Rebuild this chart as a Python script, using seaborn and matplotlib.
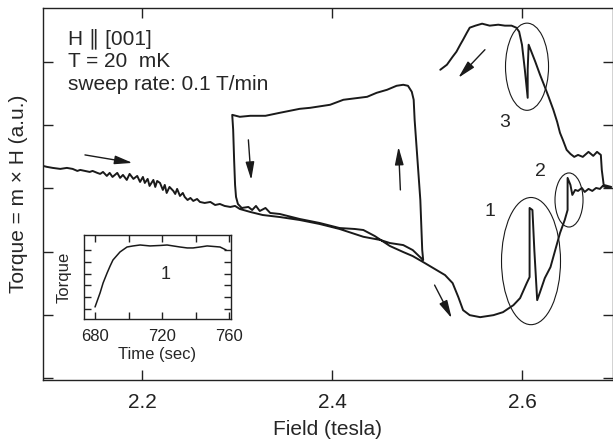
"""
Torque vs field hysteresis (H || [001], 20 mK) with spike inset.
"""

import pandas as pd
import matplotlib.pyplot as plt
from matplotlib.patches import Ellipse
import seaborn as sns

# First up-sweep, 2.1 T -> 2.5 T (noisy at low field)
field_up1 = [
    2.096, 2.100, 2.106, 2.114, 2.121, 2.127, 2.132, 2.135, 2.140, 2.145,
    2.148, 2.153, 2.156, 2.159, 2.163, 2.166, 2.169, 2.174, 2.177, 2.180,
    2.184, 2.187, 2.191, 2.195, 2.198, 2.201, 2.203, 2.206, 2.208, 2.212,
    2.214, 2.216, 2.219, 2.222, 2.224, 2.226, 2.229, 2.233, 2.235, 2.237,
    2.240, 2.243, 2.245, 2.248, 2.251, 2.254, 2.258, 2.261, 2.266, 2.272,
    2.277, 2.282, 2.287, 2.293, 2.298, 2.303, 2.314, 2.327, 2.345, 2.366,
    2.387, 2.408, 2.433, 2.451, 2.461, 2.475, 2.485, 2.496,
]
torque_up1 = [
    3.354, 3.339, 3.323, 3.307, 3.323, 3.307, 3.275, 3.291, 3.275, 3.259,
    3.275, 3.244, 3.228, 3.259, 3.196, 3.244, 3.180, 3.244, 3.165, 3.212,
    3.133, 3.228, 3.149, 3.196, 3.101, 3.180, 3.085, 3.149, 3.038, 3.133,
    3.022, 3.117, 3.085, 2.975, 3.054, 2.927, 3.022, 2.959, 2.911, 2.991,
    2.880, 2.927, 2.864, 2.816, 2.848, 2.801, 2.832, 2.785, 2.769, 2.785,
    2.737, 2.753, 2.722, 2.706, 2.722, 2.674, 2.627, 2.579, 2.547, 2.500,
    2.437, 2.358, 2.235, 2.184, 2.136, 2.104, 2.025, 1.867,
]

# Hysteresis loop between 2.3 T and 2.5 T, back onto the lower branch
field_loop = [
    2.495, 2.493, 2.490, 2.487, 2.486, 2.484, 2.480, 2.475, 2.468, 2.458,
    2.447, 2.437, 2.412, 2.398, 2.377, 2.366, 2.345, 2.330, 2.314, 2.303,
    2.295, 2.296, 2.297, 2.298, 2.299, 2.301, 2.305, 2.312, 2.316, 2.320,
    2.324, 2.330, 2.335, 2.345, 2.366, 2.387, 2.408, 2.424, 2.433, 2.445,
    2.461, 2.475, 2.485, 2.496,
]
torque_loop = [
    2.025, 2.816, 3.449, 4.082, 4.399, 4.525, 4.620, 4.636, 4.620, 4.557,
    4.509, 4.446, 4.399, 4.320, 4.272, 4.256, 4.193, 4.146, 4.146, 4.130,
    4.161, 3.924, 3.449, 3.054, 2.864, 2.753, 2.690, 2.706, 2.658, 2.722,
    2.642, 2.690, 2.611, 2.595, 2.516, 2.453, 2.373, 2.358, 2.342, 2.247,
    2.089, 1.994, 1.930, 1.835,
]

# Up-sweep above 2.5 T: dip, spike 1 and spike 2
field_up2 = [
    2.503, 2.519, 2.527, 2.533, 2.538, 2.545, 2.556, 2.570, 2.580, 2.591,
    2.598, 2.605, 2.608, 2.608, 2.608, 2.608, 2.611, 2.613, 2.616, 2.619,
    2.624, 2.630, 2.635, 2.640, 2.645, 2.648, 2.648, 2.648, 2.651, 2.653,
    2.656, 2.659, 2.663, 2.666, 2.670, 2.674, 2.678, 2.682, 2.685, 2.690,
    2.694,
]
torque_up2 = [
    1.772, 1.630, 1.503, 1.282, 1.076, 0.997, 0.965, 0.997, 1.044, 1.155,
    1.266, 1.503, 1.598, 1.867, 2.342, 2.690, 2.658, 2.025, 1.234, 1.361,
    1.582, 1.756, 2.025, 2.294, 2.500, 2.658, 2.896, 3.165, 3.054, 2.896,
    2.975, 2.959, 3.006, 2.943, 2.991, 2.959, 3.006, 2.991, 3.038, 3.006,
    3.022,
]

# Down-sweep from 2.69 T: step, spike 3, plateau
field_down = [
    2.686, 2.684, 2.683, 2.679, 2.675, 2.670, 2.664, 2.659, 2.655, 2.651,
    2.647, 2.643, 2.640, 2.637, 2.633, 2.628, 2.624, 2.619, 2.614, 2.609,
    2.607, 2.606, 2.606, 2.603, 2.600, 2.597, 2.594, 2.589, 2.582, 2.575,
    2.566, 2.558, 2.551, 2.545, 2.542, 2.538, 2.535, 2.531, 2.527, 2.521,
    2.514,
]
torque_down = [
    3.054, 3.291, 3.528, 3.576, 3.513, 3.576, 3.497, 3.528, 3.497, 3.544,
    3.608, 3.766, 3.877, 4.051, 4.241, 4.446, 4.604, 4.794, 5.000, 5.190,
    5.269, 4.873, 4.430, 4.873, 5.269, 5.475, 5.538, 5.570, 5.570, 5.585,
    5.570, 5.601, 5.570, 5.538, 5.459, 5.348, 5.269, 5.158, 5.079, 4.953,
    4.873,
]

# Inset: torque vs time around spike 1
inset_time = [
    680.0, 683.0, 684.8, 687.2, 689.0, 690.7, 694.9, 699.1, 702.7, 706.9,
    712.8, 718.8, 723.0, 726.6, 730.7, 735.0, 738.5, 742.7, 746.9, 750.4,
    754.6, 758.2,
]
inset_torque = [
    0.17, 1.36, 2.20, 3.05, 3.64, 4.15, 4.83, 5.25, 5.34, 5.42,
    5.34, 5.38, 5.42, 5.34, 5.25, 5.17, 5.17, 5.25, 5.34, 5.30,
    5.25, 5.00,
]

# One continuous record, in time order
df = pd.DataFrame({
    "field": field_up1 + field_loop + field_up2 + field_down,
    "torque": torque_up1 + torque_loop + torque_up2 + torque_down,
})
inset_df = pd.DataFrame({"time": inset_time, "torque": inset_torque})

sns.set_theme(style="ticks")
plt.rcParams["font.family"] = ["Liberation Sans", "DejaVu Sans"]
plt.rcParams["axes.edgecolor"] = "#222222"

fig = plt.figure(figsize=(6.13, 4.4), dpi=100)
ax = fig.add_axes([0.0701, 0.136, 0.9299, 0.846])

sns.lineplot(
    data=df, x="field", y="torque", estimator=None, sort=False,
    color="#1a1a1a", linewidth=1.4, ax=ax,
)

ax.set_xlim(2.0958, 2.6958)
ax.set_ylim(-0.03, 5.85)
ax.set_xticks([2.2, 2.4, 2.6])
ax.set_yticks([0, 1, 2, 3, 4, 5])
ax.set_yticklabels([])
ax.tick_params(direction="in", length=7, width=1.0, top=True, right=True,
               labelsize=15, pad=9, colors="#222222")
for spine in ax.spines.values():
    spine.set_linewidth(1.0)
ax.set_xlabel("Field (tesla)", fontsize=15, labelpad=6)
ax.set_ylabel("Torque = m \u00d7 H (a.u.)", fontsize=15)
ax.yaxis.set_label_coords(-0.027, 0.5)

# Header text
ax.text(2.122, 5.269, "H \u2225 [001]", fontsize=15, va="baseline")
ax.text(2.122, 4.921, "T = 20  mK", fontsize=15, va="baseline")
ax.text(2.122, 4.557, "sweep rate: 0.1 T/min", fontsize=15, va="baseline")

# Sweep-direction arrows
arrows = [
    ((2.140, 3.528), (2.190, 3.402)),
    ((2.312, 3.766), (2.315, 3.133)),
    ((2.472, 2.975), (2.470, 3.655)),
    ((2.561, 5.190), (2.533, 4.747)),
    ((2.508, 1.472), (2.526, 0.949)),
]
for start, end in arrows:
    ax.annotate(
        "", xy=end, xytext=start,
        arrowprops=dict(arrowstyle="-|>,head_length=0.9,head_width=0.22",
                        color="#1a1a1a", lw=1.0, mutation_scale=12,
                        shrinkA=0, shrinkB=0),
    )

# Circled spikes and their numbers
for cx, cy, w, h in [(2.6095, 1.851, 0.0621, 2.009),
                     (2.6495, 2.816, 0.0295, 0.854),
                     (2.6053, 4.921, 0.0453, 1.377)]:
    ax.add_patch(Ellipse((cx, cy), w, h, fill=False, lw=0.8,
                         edgecolor="#1a1a1a"))
for x, y, s in [(2.566, 2.627, "1"), (2.619, 3.259, "2"),
                (2.582, 4.035, "3")]:
    ax.text(x, y, s, fontsize=14, ha="center", va="center")

# Inset
axin = fig.add_axes([0.137, 0.275, 0.240, 0.191])
sns.lineplot(data=inset_df, x="time", y="torque", sort=False,
             color="#1a1a1a", linewidth=1.1, ax=axin)
axin.set_xlim(673.4, 761.2)
axin.set_ylim(-0.85, 6.27)
axin.set_xticks([680, 720, 760])
axin.set_xticks([700, 740], minor=True)
axin.set_yticks([0, 1, 2, 3, 4, 5])
axin.set_yticklabels([])
axin.tick_params(which="both", direction="in", length=5, width=1.0,
                 top=True, right=True, labelsize=12, pad=7,
                 colors="#222222")
for spine in axin.spines.values():
    spine.set_linewidth(1.0)
axin.set_xlabel("Time (sec)", fontsize=12, labelpad=2)
axin.set_ylabel("Torque", fontsize=12, labelpad=2)
axin.text(722, 2.9, "1", fontsize=13, ha="center", va="center")

fig.savefig("out.png", dpi=100)
